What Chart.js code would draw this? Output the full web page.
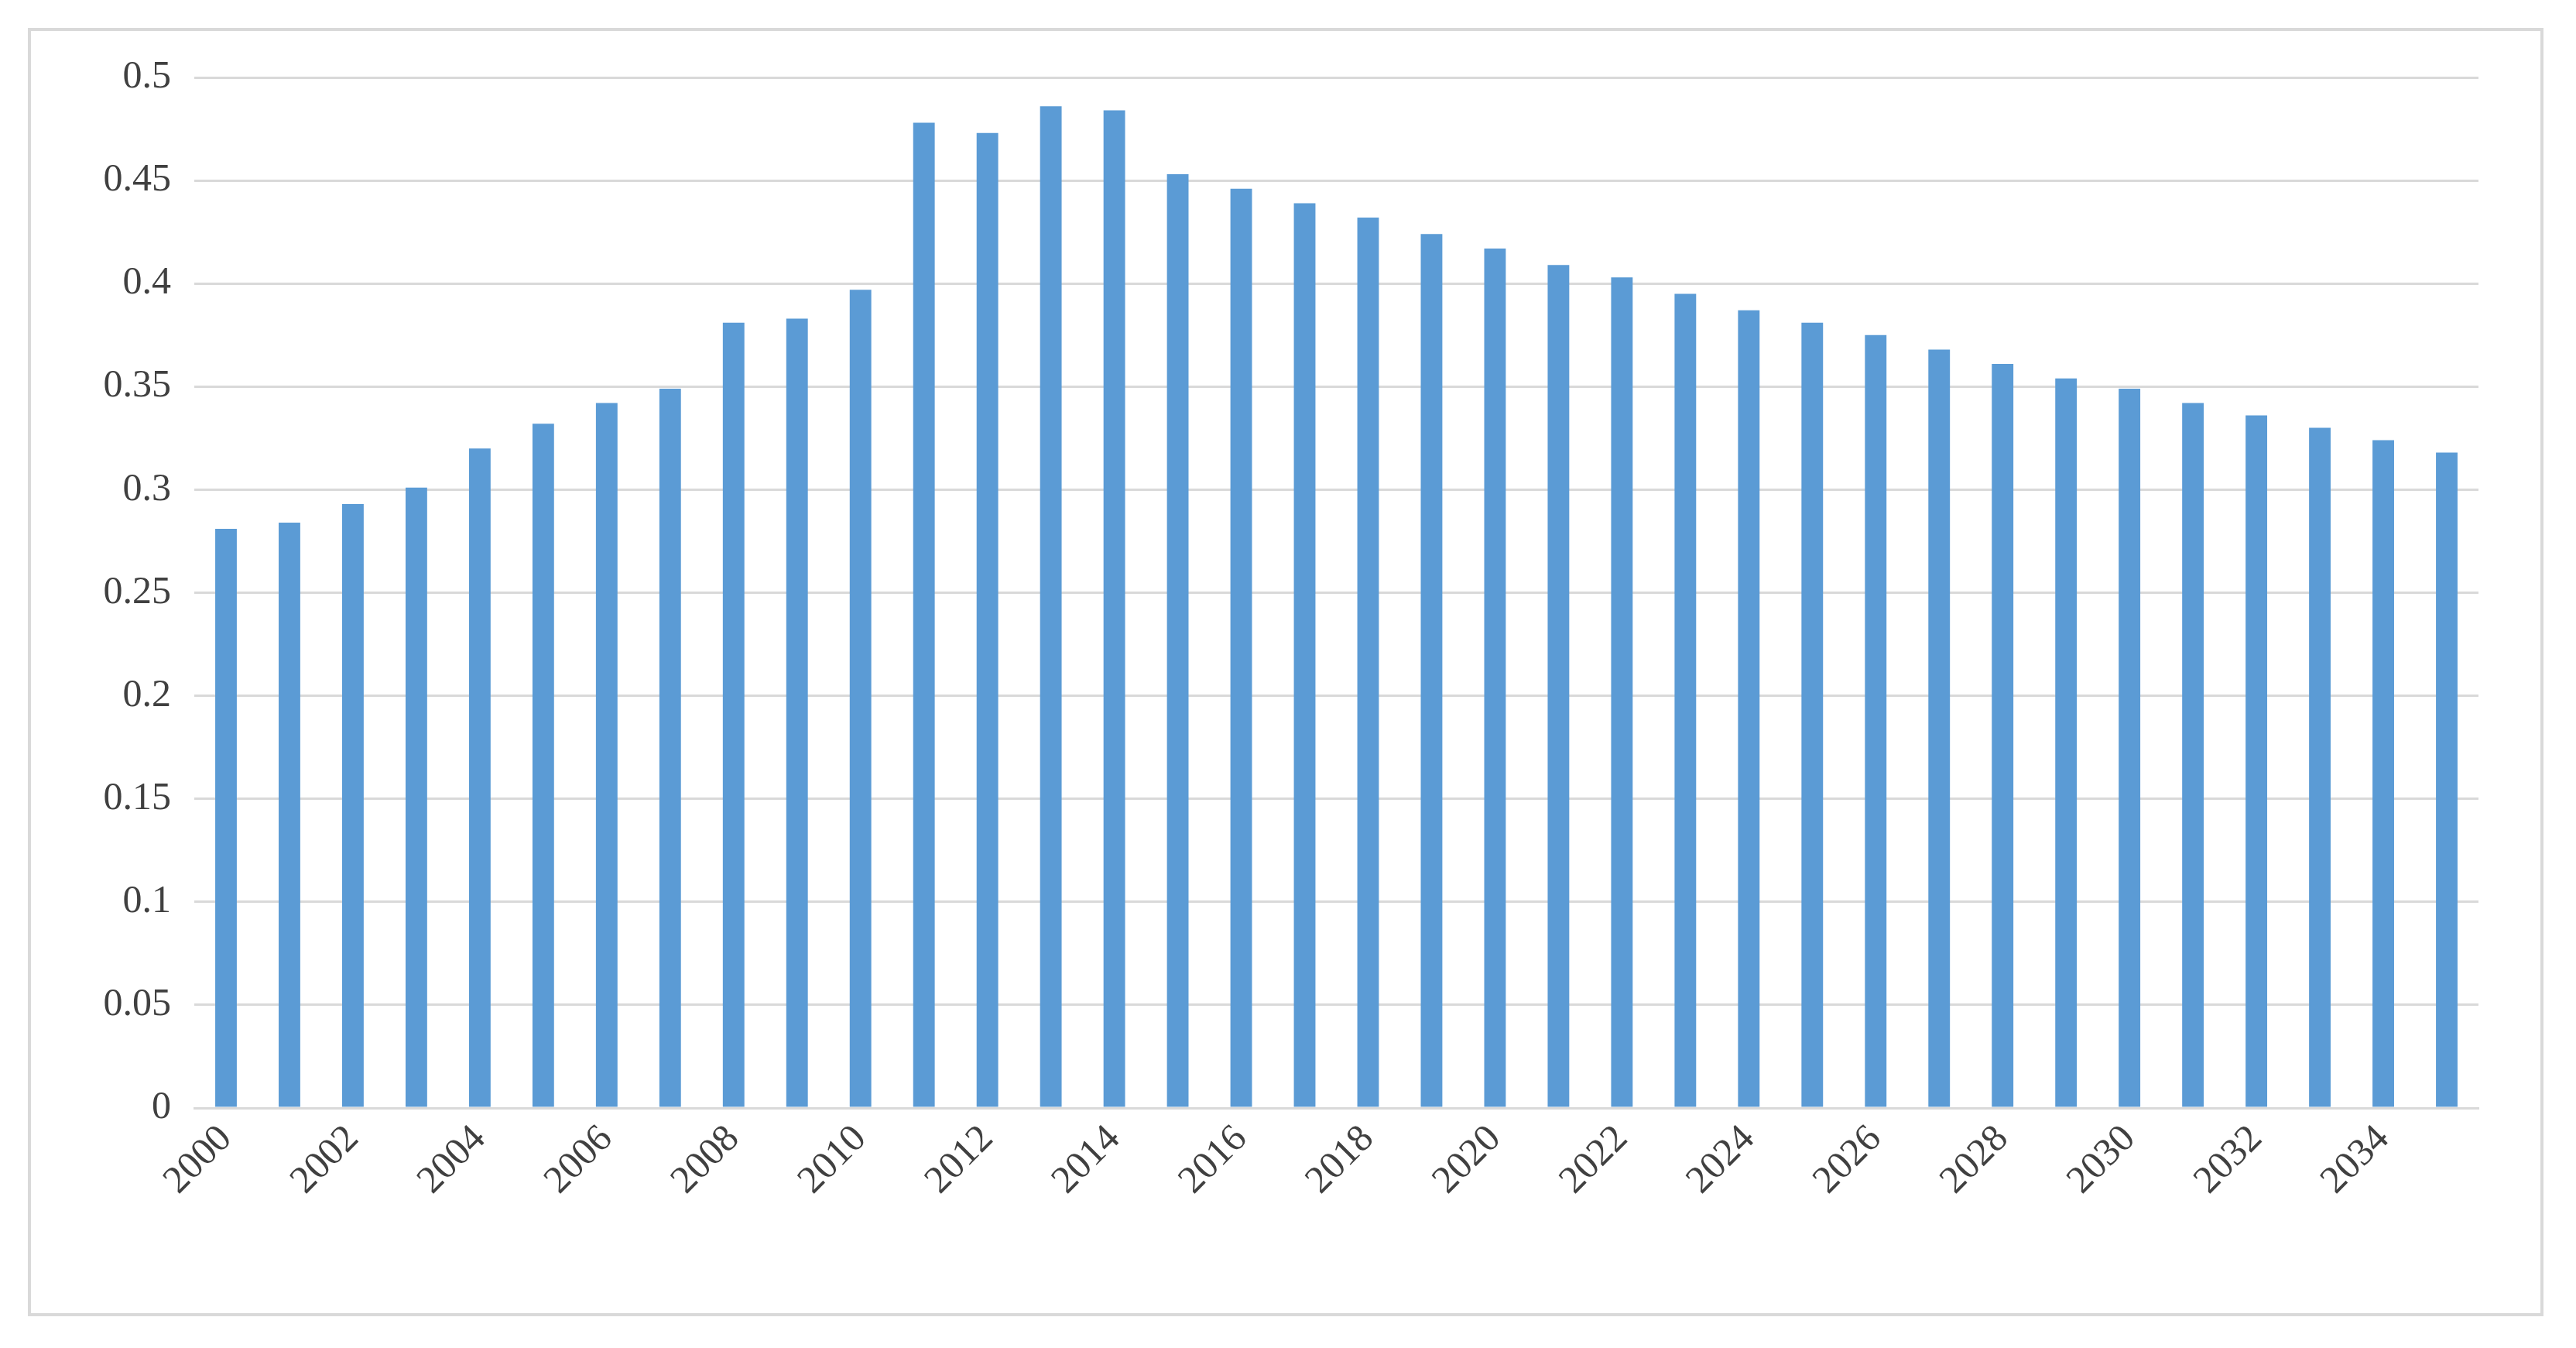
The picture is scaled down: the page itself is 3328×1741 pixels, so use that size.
<!DOCTYPE html>
<html><head><meta charset="utf-8">
<script src="https://cdn.jsdelivr.net/npm/chart.js@4"></script>
<style>
html,body{margin:0;padding:0;background:#fff;width:3328px;height:1741px;overflow:hidden}
#box{position:absolute;left:36px;top:36px;width:3250px;height:1664px;border:4px solid #d9d9d9;box-sizing:border-box}
canvas{display:block}
</style></head><body>
<div id="box"><canvas id="c" width="3242" height="1656"></canvas></div>
<script>
const years=[];for(let y=2000;y<=2035;y++)years.push(String(y));
const values=[0.281,0.284,0.293,0.301,0.320,0.332,0.342,0.349,0.381,0.383,0.397,0.478,0.473,0.486,0.484,0.453,0.446,0.439,0.432,0.424,0.417,0.409,0.403,0.395,0.387,0.381,0.375,0.368,0.361,0.354,0.349,0.342,0.336,0.330,0.324,0.318];
const yTicks=[0,0.05,0.1,0.15,0.2,0.25,0.3,0.35,0.4,0.45,0.5];
const font={family:'"Liberation Serif", serif',size:50};
new Chart(document.getElementById('c'),{
type:'bar',
data:{labels:years,datasets:[{data:values,backgroundColor:'#5b9bd5',categoryPercentage:1,barPercentage:0.34}]},
options:{responsive:false,animation:false,
layout:{padding:{top:60,right:80,bottom:10,left:0}},
plugins:{legend:{display:false},tooltip:{enabled:false}},
scales:{
x:{grid:{display:false},border:{color:'#d9d9d9',width:3},
ticks:{color:'#404040',font,autoSkip:false,maxRotation:45,minRotation:45,
callback:(v,i)=>i%2===0?years[i]:''},
afterFit:s=>{s.height=255;}},
y:{min:0,max:0.5,border:{display:false},grid:{color:'#d9d9d9',lineWidth:3,drawTicks:false},
afterBuildTicks:s=>{s.ticks=yTicks.map(v=>({value:v}));},
ticks:{color:'#404040',font,padding:30,callback:v=>String(Number(v.toFixed(2)))},
afterFit:s=>{s.width=211;}}
}}});
</script></body></html>
